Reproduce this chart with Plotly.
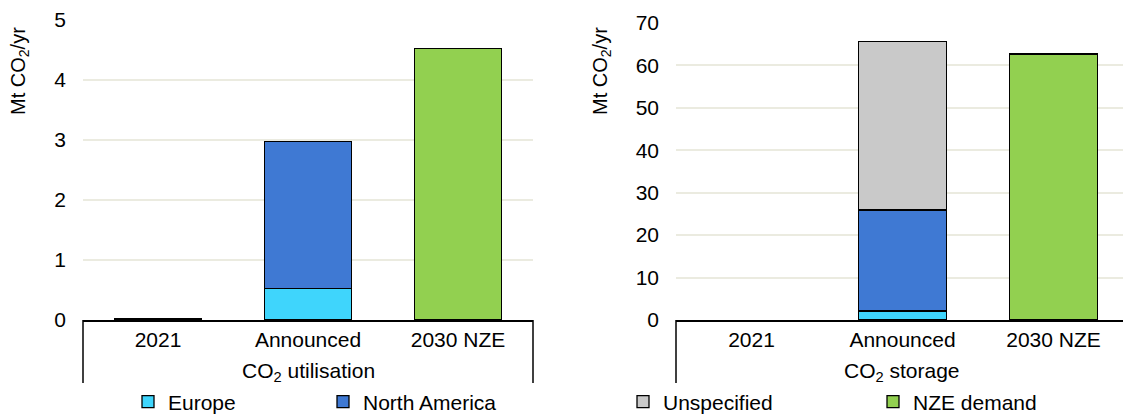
import plotly.graph_objects as go

W, H = 1123, 414
categories = ["2021", "Announced", "2030 NZE"]

# CO2 utilisation (Mt CO2/yr)
util_europe = [None, 0.53, None]
util_north_america = [0.02, 2.45, None]
util_unspecified = [None, None, None]
util_nze = [None, None, 4.52]

# CO2 storage (Mt CO2/yr)
stor_europe = [None, 2.1, None]
stor_north_america = [None, 23.8, None]
stor_unspecified = [None, 39.7, None]
stor_nze = [None, None, 62.7]

series_names = ["Europe", "North America", "Unspecified", "NZE demand"]
colors = ["#3fd5fc", "#3f79d3", "#c9c9c9", "#92d050"]
group_titles = ["CO<sub>2</sub> utilisation", "CO<sub>2</sub> storage"]

FONT = "Liberation Sans, Arial, sans-serif"
FS = 21

def px(x):
    return x / W

def py(y):
    return 1 - y / H

fig = go.Figure()

util = [util_europe, util_north_america, util_unspecified, util_nze]
stor = [stor_europe, stor_north_america, stor_unspecified, stor_nze]
legends = ["legend", "legend2", "legend3", "legend4"]

for i, name in enumerate(series_names):
    fig.add_trace(go.Bar(
        x=categories, y=util[i], name=name, xaxis="x", yaxis="y",
        marker=dict(color=colors[i], line=dict(color="#000000", width=1.3)),
        legend=legends[i], showlegend=True, legendgroup=name,
    ))
    fig.add_trace(go.Bar(
        x=categories, y=stor[i], name=name, xaxis="x2", yaxis="y2",
        marker=dict(color=colors[i], line=dict(color="#000000", width=1.3)),
        legend=legends[i], showlegend=False, legendgroup=name,
    ))

grid = "#ebebe0"
# left panel: x 83..533 ; right panel: x 676..1129 (clipped at 1123)
right_w = (1129 - 676) / 3.0
right_end = -0.5 + (W - 676) / right_w

common_x = dict(type="category", showgrid=False, showline=True, linecolor="#000000",
                linewidth=1.5, ticks="",
                tickfont=dict(family=FONT, size=FS, color="#000"),
                zeroline=False, fixedrange=True, automargin=False)
common_y = dict(showgrid=True, gridcolor=grid, gridwidth=1.5, showline=False, zeroline=False,
                ticks="", tickfont=dict(family=FONT, size=FS, color="#000"),
                ticklabelstandoff=16, fixedrange=True, automargin=False)

fig.update_layout(
    template="none",
    width=W, height=H, margin=dict(l=0, r=0, t=0, b=0, autoexpand=False),
    paper_bgcolor="white", plot_bgcolor="white",
    barmode="stack", bargap=0.42,
    font=dict(family=FONT, size=FS, color="#000"),
    xaxis=dict(common_x, domain=[px(83), px(533)], anchor="y", range=[-0.5, 2.5]),
    yaxis=dict(common_y, domain=[py(320), py(20)], anchor="x", range=[0, 5], dtick=1),
    xaxis2=dict(common_x, domain=[px(676), 1.0], anchor="y2", range=[-0.5, right_end]),
    yaxis2=dict(common_y, domain=[py(320), py(23)], anchor="x2", range=[0, 70], dtick=10),
)

leg_x = [128, 323, 623, 873]
for i, lg in enumerate(legends):
    fig.update_layout({lg: dict(x=px(leg_x[i]), y=py(402), xanchor="left", yanchor="middle",
                                orientation="h", bgcolor="rgba(0,0,0,0)",
                                font=dict(family=FONT, size=FS, color="#000"),
                                itemclick=False, itemdoubleclick=False)})

# category frame lines below the axes
for x0 in [83, 533, 676]:
    fig.add_shape(type="line", xref="paper", yref="paper",
                  x0=px(x0), x1=px(x0), y0=py(320), y1=py(383),
                  line=dict(color="#000000", width=1.5))

# group labels
fig.add_annotation(text=group_titles[0], x=px(308), y=py(372), xref="paper", yref="paper",
                   xanchor="center", yanchor="middle",
                   showarrow=False, font=dict(family=FONT, size=FS, color="#000"))
fig.add_annotation(text=group_titles[1], x=px(902), y=py(372), xref="paper", yref="paper",
                   xanchor="center", yanchor="middle",
                   showarrow=False, font=dict(family=FONT, size=FS, color="#000"))

# y-axis titles
for xt in [19, 601]:
    fig.add_annotation(text="Mt CO<sub>2</sub>/yr", x=px(xt), y=py(71), xref="paper", yref="paper",
                       xanchor="center", yanchor="middle",
                       showarrow=False, textangle=-90,
                       font=dict(family=FONT, size=20, color="#000"))

fig.write_html("out.html", config={"displayModeBar": False},
               post_script="document.body.style.margin='0';document.body.style.overflow='hidden';")
